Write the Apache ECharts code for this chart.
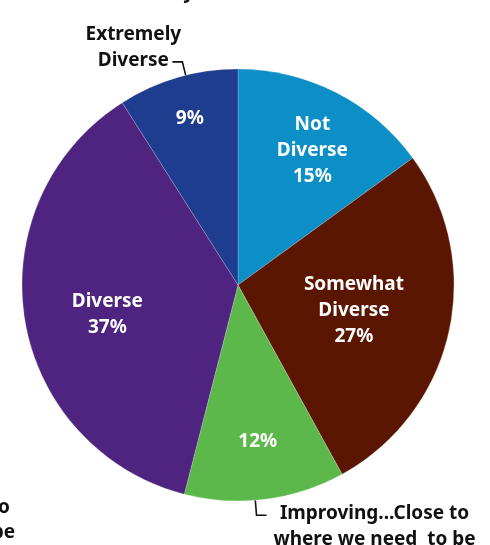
<!DOCTYPE html>
<html>
<head>
<meta charset="utf-8">
<script src="https://cdn.jsdelivr.net/npm/echarts@6/dist/echarts.min.js"></script>
<style>
  html, body { margin: 0; padding: 0; background: #fff; }
  #chart { width: 490px; height: 545px; }
</style>
</head>
<body>
<div id="chart"></div>
<script>
// Survey answers, clockwise from twelve o'clock
const categories = ['Not Diverse', 'Somewhat Diverse', 'Improving...Close to where we need  to be', 'Diverse', 'Extremely Diverse'];
const percents = [15, 27, 12, 37, 9];
const colors = ['#0b8fc6', '#5a1600', '#5cb84b', '#4e2480', '#1f3d8f'];

// Text drawn inside each slice (value appended below); null = value only
const innerNames = ['Not\nDiverse', 'Somewhat\nDiverse', null, 'Diverse', null];
// Slices whose name sits outside the pie with a leader line
const outerNames = [null, null, 'Improving...Close to\nwhere we need  to be', null, 'Extremely\nDiverse'];

// Inside label placement: [fraction of radius, angle shift in degrees]
const innerPlacement = [[0.71, 2], [0.55, 0], [0.73, 0], [0.62, -3.7], [0.80, 0]];
// Outside label leader: [angle shift, radial length, horizontal run, text dx, text dy]
const outerLeader = {
  2: [2.6, 15, 10, 108, 11.5],
  4: [2.2, 14, -10, -39, -14]
};

const CX = 238, CY = 285, R = 216;
const FONT = '"Noto Sans", "Open Sans", sans-serif';
const FS = 19;

const total = percents.reduce((a, b) => a + b, 0);
const midAngles = [];
let acc = 0;
percents.forEach(v => { midAngles.push((acc + v / 2) / total * 360); acc += v; });

function polar(angleDeg, r) {
  const a = angleDeg * Math.PI / 180;
  return [CX + r * Math.sin(a), CY - r * Math.cos(a)];
}

const chart = echarts.init(document.getElementById('chart'), null, { renderer: 'canvas' });

const baseData = categories.map((name, i) => ({ name, value: percents[i], itemStyle: { color: colors[i] } }));

chart.setOption({
  animation: false,
  backgroundColor: '#fff',
  series: [
    {
      type: 'pie',
      center: [CX, CY],
      radius: R,
      startAngle: 90,
      clockwise: true,
      avoidLabelOverlap: false,
      silent: true,
      itemStyle: { borderColor: 'rgba(255,255,255,0.5)', borderWidth: 0.4 },
      label: {
        show: true,
        position: 'inside',
        color: '#fff',
        fontFamily: FONT,
        fontWeight: 'bold',
        fontSize: FS,
        lineHeight: 26,
        align: 'center',
        formatter: p => {
          const n = innerNames[p.dataIndex];
          return (n ? n + '\n' : '') + p.value + '%';
        }
      },
      labelLine: { show: false },
      labelLayout: p => {
        const [f, shift] = innerPlacement[p.dataIndex];
        const [x, y] = polar(midAngles[p.dataIndex] + shift, f * R);
        return { x, y, align: 'center', verticalAlign: 'middle' };
      },
      data: baseData
    },
    {
      // transparent copy carrying the outside name labels and leader lines
      type: 'pie',
      center: [CX, CY],
      radius: R,
      startAngle: 90,
      clockwise: true,
      avoidLabelOverlap: false,
      silent: true,
      itemStyle: { color: 'rgba(0,0,0,0)' },
      label: {
        position: 'outside',
        color: '#111',
        fontFamily: FONT,
        fontWeight: 'bold',
        fontSize: FS,
        lineHeight: 26,
        align: 'center'
      },
      labelLine: { length: 14, length2: 8, lineStyle: { color: '#111', width: 1.6 } },
      labelLayout: p => {
        const lead = outerLeader[p.dataIndex];
        if (!lead) return {};
        const [shift, len, run, tdx, tdy] = lead;
        const ang = midAngles[p.dataIndex] + shift;
        const p1 = polar(ang, R);
        const p2 = polar(ang, R + len);
        const p3 = [p2[0] + run, p2[1]];
        return {
          x: p3[0] + tdx,
          y: p3[1] + tdy,
          align: 'center',
          verticalAlign: 'middle',
          labelLinePoints: [p1, p2, p3]
        };
      },
      data: categories.map((name, i) => {
        const o = outerNames[i];
        if (!o) {
          return { name, value: percents[i], label: { show: false }, labelLine: { show: false } };
        }
        return {
          name,
          value: percents[i],
          label: { show: true, formatter: o },
          labelLine: { show: true }
        };
      })
    }
  ],
  graphic: [
    {
      type: 'text', x: 194, y: -17,
      style: { text: 'Diversity', align: 'right', fill: '#111', font: 'bold ' + FS + 'px ' + FONT }
    },
    {
      type: 'text', x: 10, y: 498,
      style: { text: 'Improving...Close to', align: 'right', fill: '#111', font: 'bold ' + FS + 'px ' + FONT }
    },
    {
      type: 'text', x: 15, y: 523,
      style: { text: 'where we need  to be', align: 'right', fill: '#111', font: 'bold ' + FS + 'px ' + FONT }
    }
  ]
});
</script>
</body>
</html>
